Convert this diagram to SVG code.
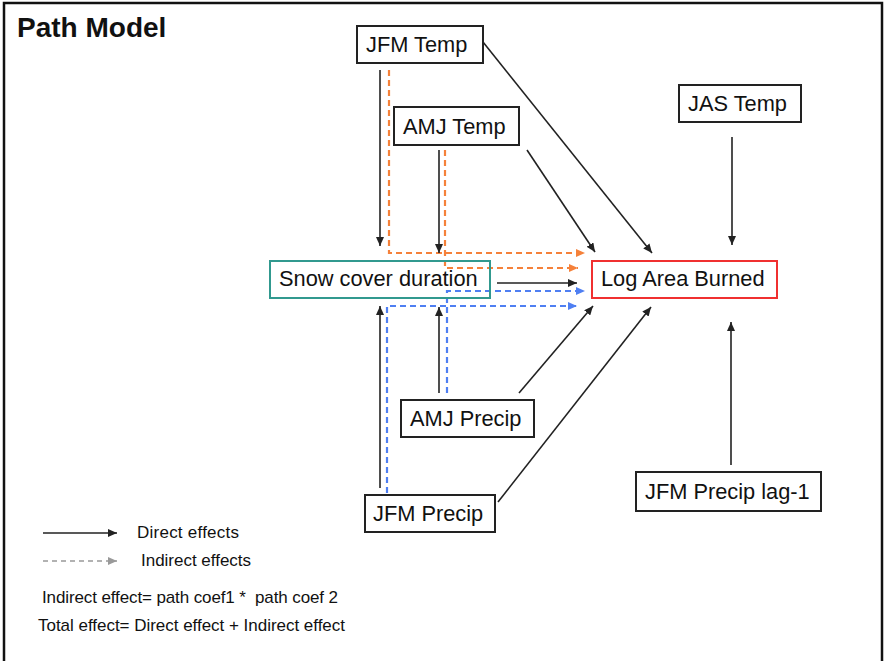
<svg xmlns="http://www.w3.org/2000/svg" width="884" height="661" viewBox="0 0 884 661">
<style>
text{font-family:"Liberation Sans",Arial,sans-serif;fill:#111}
.nb{fill:#fff;stroke:#222;stroke-width:2}
.lbl{font-size:21.8px}
.d{fill:none;stroke:#222;stroke-width:1.6;marker-end:url(#ab)}
.o{fill:none;stroke:#f5813a;stroke-width:2.2;stroke-dasharray:6 4;marker-end:url(#ao)}
.b{fill:none;stroke:#4f7ff2;stroke-width:2.2;stroke-dasharray:6 4;marker-end:url(#abl)}
.leg{font-size:17px}
</style>
<defs>
<marker id="ab" markerUnits="userSpaceOnUse" markerWidth="9" markerHeight="8" refX="9" refY="4" orient="auto"><path d="M0,0 L9,4 L0,8 z" fill="#222"/></marker>
<marker id="ao" markerUnits="userSpaceOnUse" markerWidth="9" markerHeight="8" refX="9" refY="4" orient="auto"><path d="M0,0 L9,4 L0,8 z" fill="#f5813a"/></marker>
<marker id="abl" markerUnits="userSpaceOnUse" markerWidth="9" markerHeight="8" refX="9" refY="4" orient="auto"><path d="M0,0 L9,4 L0,8 z" fill="#4f7ff2"/></marker>
<marker id="ag" markerUnits="userSpaceOnUse" markerWidth="9" markerHeight="8" refX="9" refY="4" orient="auto"><path d="M0,0 L9,4 L0,8 z" fill="#999"/></marker>
</defs>
<rect x="0" y="0" width="884" height="661" fill="#fff"/>
<rect x="4" y="3" width="878" height="680" fill="none" stroke="#111" stroke-width="2.5"/>
<text x="17" y="37" font-size="28" font-weight="bold">Path Model</text>

<g id="connectors">
<path class="o" d="M389,70 V253 H585"/>
<path class="o" d="M445,150 V268 H578"/>
<path class="b" d="M447,393 V291 H585"/>
<path class="b" d="M387,493 V306 H577"/>
<line class="d" x1="380" y1="70" x2="380" y2="246"/>
<line class="d" x1="439" y1="150" x2="439" y2="253"/>
<line class="d" x1="380" y1="488" x2="380" y2="306"/>
<line class="d" x1="439" y1="393" x2="439" y2="307"/>
<line class="d" x1="497" y1="283" x2="577" y2="283"/>
<line class="d" x1="483" y1="42" x2="652" y2="253"/>
<line class="d" x1="527" y1="150" x2="595" y2="252"/>
<line class="d" x1="732" y1="137" x2="732" y2="245"/>
<line class="d" x1="519" y1="393" x2="593" y2="306"/>
<line class="d" x1="498" y1="502" x2="651" y2="307"/>
<line class="d" x1="731" y1="465" x2="731" y2="322"/>
</g>

<g id="jfm-temp"><rect class="nb" x="357" y="26" width="126" height="37"/><text class="lbl" x="366" y="52">JFM Temp</text></g>
<g id="amj-temp"><rect class="nb" x="394" y="107" width="125" height="38"/><text class="lbl" x="403" y="134">AMJ Temp</text></g>
<g id="jas-temp"><rect class="nb" x="679" y="85" width="122" height="37"/><text class="lbl" x="688" y="111">JAS Temp</text></g>
<g id="snow"><rect x="270" y="261" width="220" height="37" fill="none" stroke="#31998f" stroke-width="2"/><text class="lbl" x="279" y="286">Snow cover duration</text></g>
<g id="log-area"><rect x="592" y="261" width="185" height="37" fill="#fff" stroke="#f03030" stroke-width="2"/><text class="lbl" x="601" y="286">Log Area Burned</text></g>
<g id="amj-precip"><rect class="nb" x="401" y="400" width="133" height="37"/><text class="lbl" x="410" y="426">AMJ Precip</text></g>
<g id="jfm-precip"><rect class="nb" x="365" y="495" width="130" height="37"/><text class="lbl" x="373" y="521">JFM Precip</text></g>
<g id="jfm-precip-lag"><rect class="nb" x="636" y="472" width="185" height="39"/><text class="lbl" x="645" y="499">JFM Precip lag-1</text></g>

<g id="legend">
<line x1="43" y1="533" x2="117" y2="533" stroke="#222" stroke-width="1.6" marker-end="url(#ab)"/>
<text class="leg" x="137" y="538" textLength="102">Direct effects</text>
<line x1="43" y1="561" x2="117" y2="561" stroke="#999" stroke-width="1.6" stroke-dasharray="5 4" marker-end="url(#ag)"/>
<text class="leg" x="141" y="566" textLength="110">Indirect effects</text>
<text class="leg" x="42" y="603" textLength="296" xml:space="preserve">Indirect effect= path coef1 *  path coef 2</text>
<text class="leg" x="38" y="631" textLength="307">Total effect= Direct effect + Indirect effect</text>
</g>
</svg>
